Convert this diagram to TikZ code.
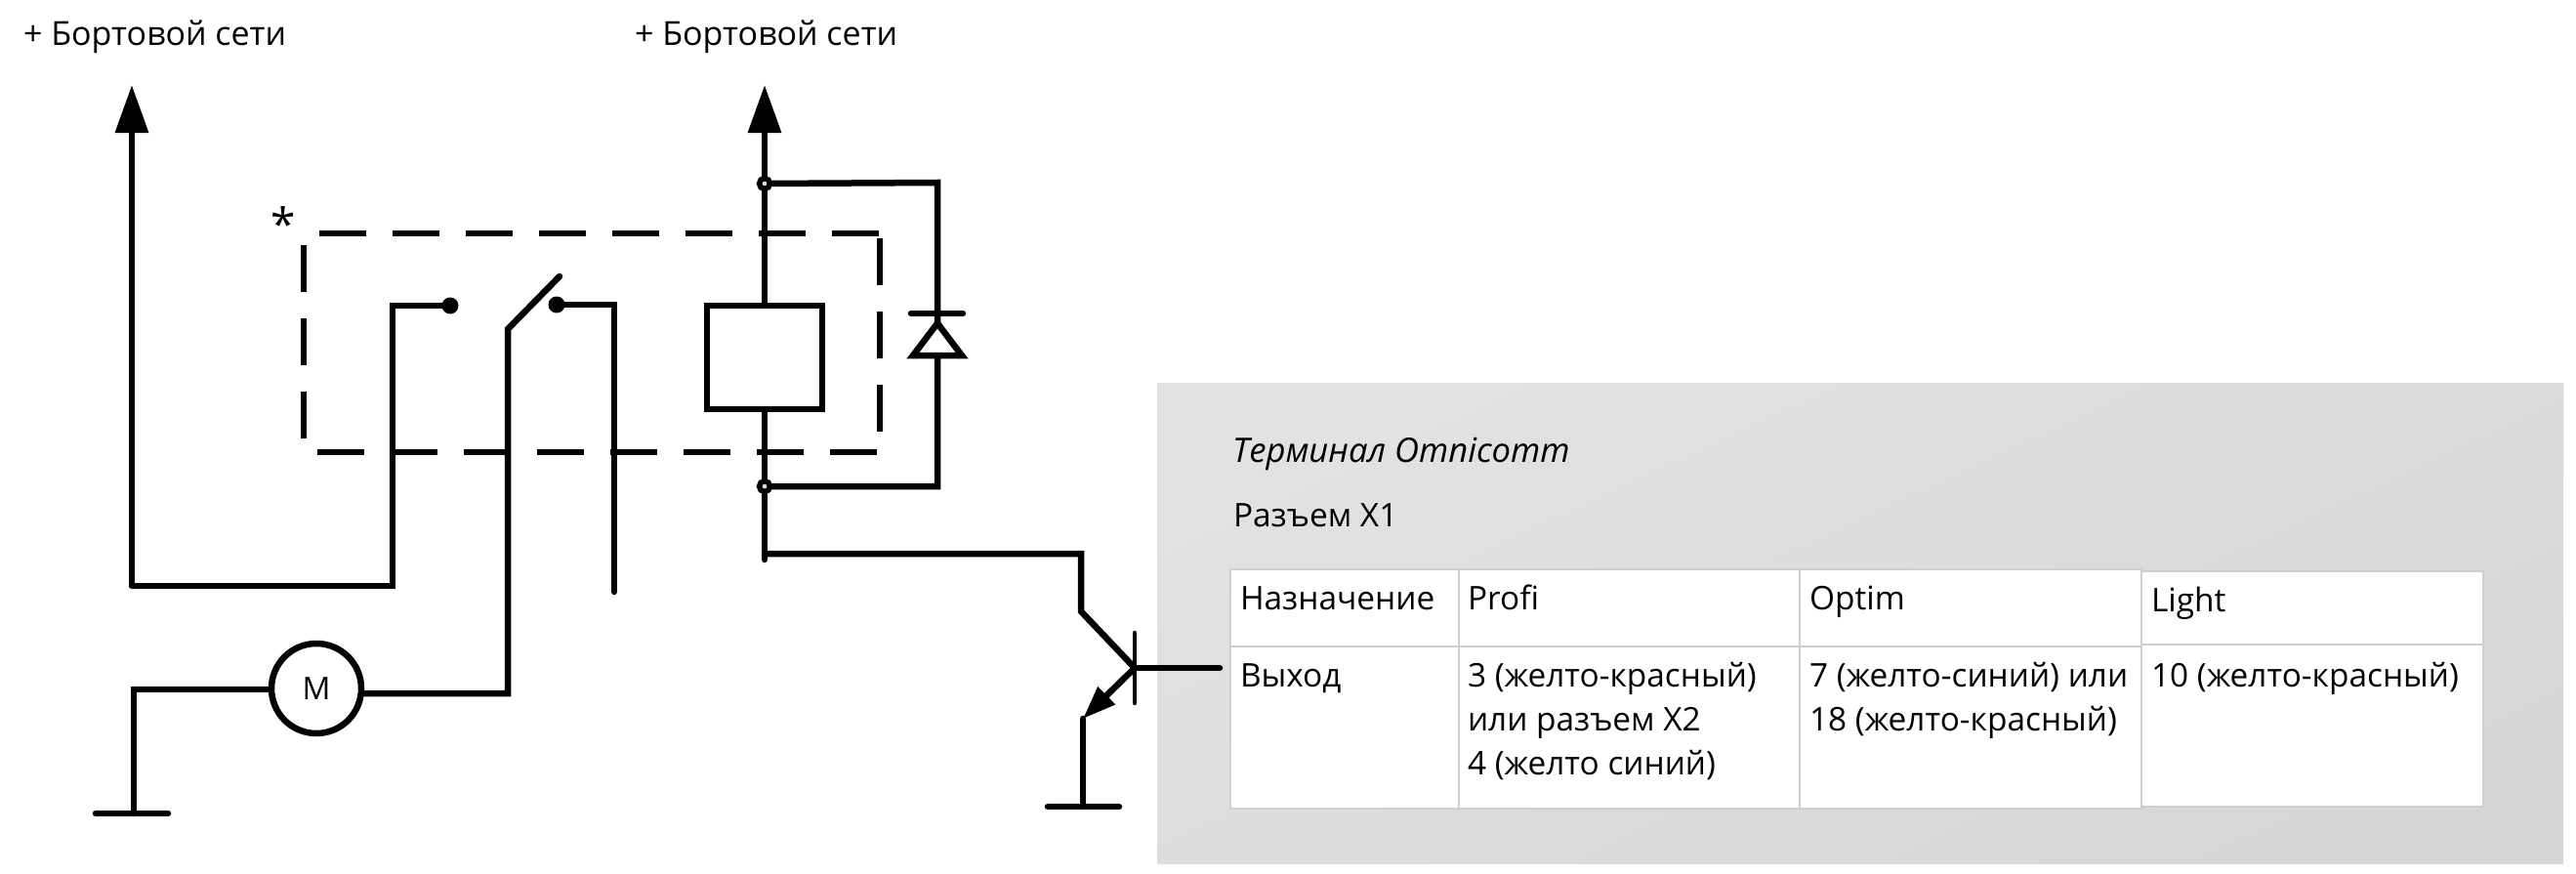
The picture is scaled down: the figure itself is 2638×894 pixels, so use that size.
\documentclass[tikz,border=0pt]{standalone}
\usepackage{fontspec}
\setmainfont{Open Sans}
\usetikzlibrary{arrows.meta,calc}
\definecolor{panelA}{HTML}{E2E2E2}
\definecolor{panelB}{HTML}{D6D6D6}
\definecolor{cellline}{HTML}{CFCFCF}
\definecolor{holecol}{HTML}{D5E0EA}
\tikzset{
  wire/.style={line width=6.5pt,line cap=round,line join=miter,black},
  thin wire/.style={line width=4.5pt,line cap=round,black},
  dashline/.style={line width=5.5pt,black,dash pattern=on 48pt off 27pt},
  txt/.style={anchor=base west,inner sep=0pt,outer sep=0pt,font=\fontsize{33.4}{33.4}\selectfont,text=black},
  toplabel/.style={txt,font=\fontsize{34}{34}\selectfont},
  cell/.style={draw=cellline,line width=1.5pt,fill=white},
  dot/.style={circle,fill=black,inner sep=0pt,minimum size=17pt},
  junction/.style={circle,draw=black,fill=holecol,line width=5.5pt,inner sep=0pt,minimum size=11pt},
  power/.style={-{Triangle[length=49pt,width=33pt]}},
}
\begin{document}
\begin{tikzpicture}[x=1pt,y=-1pt]
\useasboundingbox (0,0) rectangle (2638,894);
% panel
\shade[top color=panelA,bottom color=panelB,shading angle=25] (1185,392) rectangle (2625,884);
% table
\path[cell] (1260,583) rectangle (1494,662);
\path[cell] (1494,583) rectangle (1843,662);
\path[cell] (1843,583) rectangle (2193,662);
\path[cell] (1260,662) rectangle (1494,828);
\path[cell] (1494,662) rectangle (1843,828);
\path[cell] (1843,662) rectangle (2193,828);
\path[cell] (2193,585) rectangle (2543,660);
\path[cell] (2193,660) rectangle (2543,826);
% coordinates
\coordinate (ltop) at (135,87);
\coordinate (lbot) at (135,600);
\coordinate (lcorner) at (402,600);
\coordinate (lup) at (402,313);
\node[dot] (c1) at (461,313) {};
\node[dot] (c2) at (570,312) {};
\coordinate (hinge) at (520,337);
\coordinate (levertip) at (573,283);
\coordinate (swbot) at (520,710);
\coordinate (c2r) at (629,312);
\coordinate (c2b) at (629,606);
\node[circle,draw=black,line width=6.5pt,inner sep=0pt,minimum size=92pt,font=\fontsize{32}{32}\selectfont] (motor) at (324,705) {M};
\coordinate (mleft) at (137,706);
\coordinate (gnd1) at (137,833);
\coordinate (gnd1a) at (98,833);
\coordinate (gnd1b) at (172,833);
% relay
\coordinate (rtop) at (783,87);
\coordinate (rbot) at (783,573);
\node[draw=black,line width=6.5pt,fill=none,minimum width=118pt,minimum height=106pt,inner sep=0pt] (coil) at (783,366) {};
\coordinate (dtop) at (960,187);
\coordinate (dbot) at (960,498);
\coordinate (barL) at (933,321);
\coordinate (barR) at (986,321);
\coordinate (triL) at (935,364);
\coordinate (triR) at (985,364);
\coordinate (triA) at (960,331);
% dashed box wires
\draw[dashline] (327,239) -- (905,239);
\draw[dashline] (325,463) -- (903,463);
\draw[dashline] (311,251) -- (311,460);
\draw[dashline] (901,244) -- (901,450);
% wires
\draw[wire,line cap=butt,power] (lbot) -- (ltop);
\draw[wire,line join=miter] (lbot) -- (lcorner) -- (lup) -- (c1);
\draw[wire] (levertip) -- (hinge) -- (swbot) -- (motor.east |- swbot);
\draw[wire] (c2) -- (c2r) -- (c2b);
\draw[wire] (motor.west |- mleft) -- (mleft) -- (gnd1);
\draw[wire] (gnd1a) -- (gnd1b);
\draw[wire,line cap=butt,power] (coil.north) -- (rtop);
\draw[wire] (coil.south) -- (rbot);
\draw[wire] (783,188) -- (dtop) -- (dbot) -- (783,498);
\node[junction] (j1) at (783,188) {};
\node[junction] (j2) at (783,498) {};
\draw[wire,fill=white,line join=miter] (triA) -- (triL) -- (triR) -- cycle;
\draw[wire] (barL) -- (barR);
% transistor
\coordinate (k0) at (783,567);
\coordinate (k1) at (1107,567);
\coordinate (k2) at (1107,626);
\coordinate (b0) at (1162,684);
\coordinate (b1) at (1249,684);
\coordinate (bt) at (1162,648);
\coordinate (bb) at (1162,720);
\coordinate (e1) at (1109,736);
\coordinate (e2) at (1109,826);
\coordinate (g2a) at (1073,826);
\coordinate (g2b) at (1146,826);
\draw[wire] (k0) -- (k1) -- (k2) -- (b0);
\draw[thin wire] (bt) -- (bb);
\draw[wire] (b0) -- (b1);
\draw[wire,line cap=butt,-{Triangle[length=34pt,width=24pt]}] (b0) -- (e1);
\draw[wire] (e1) -- (e2);
\draw[wire] (g2a) -- (g2b);
% labels
\node[toplabel] (t1) at (24,46) {+ Бортовой сети};
\node[toplabel] (t2) at (650,46) {+ Бортовой сети};
\node[txt,font=\fontsize{46}{46}\selectfont] (star) at (277,246) {*};
\node[txt,font=\fontsize{34.6}{34.6}\selectfont] (t3) at (1262,473) {\itshape Терминал Omnicomm};
\node[txt] (t4) at (1263,539) {Разъем X1};
\node[txt] (h1) at (1270,624) {Назначение};
\node[txt] (h2) at (1503,624) {Profi};
\node[txt] (h3) at (1853,624) {Optim};
\node[txt] (h4) at (2203,626) {Light};
\node[txt] (r1) at (1270,703) {Выход};
\node[txt] (r2) at (1503,703) {3 (желто-красный)};
\node[txt] (r3) at (1503,748) {или разъем X2};
\node[txt] (r4) at (1503,793) {4 (желто синий)};
\node[txt] (r5) at (1853,703) {7 (желто-синий) или};
\node[txt] (r6) at (1853,748) {18 (желто-красный)};
\node[txt] (r7) at (2203,703) {10 (желто-красный)};
\end{tikzpicture}
\end{document}
